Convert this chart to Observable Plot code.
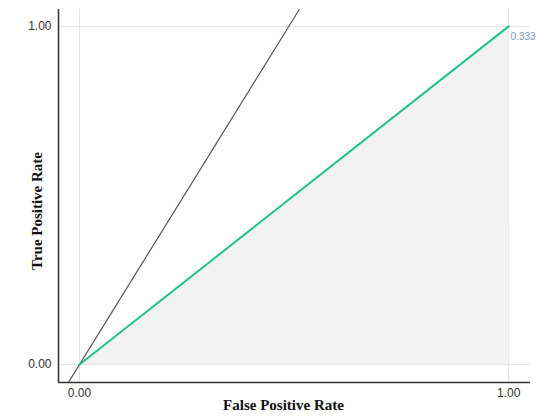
<!DOCTYPE html>
<html>
<head>
<meta charset="utf-8">
<script src="https://cdn.jsdelivr.net/npm/d3@7"></script>
<script src="https://cdn.jsdelivr.net/npm/@observablehq/plot@0.6"></script>
<style>
  html, body { margin: 0; padding: 0; background: #fff; }
  #chart svg { display: block; }
</style>
</head>
<body>
<div id="chart"></div>
<script>
// ROC curve data
const fpr = [0, 1];
const tpr = [0, 1];
const aucLabel = "0.333";
// reference line as drawn in the picture
const refX = [-0.026, 0.512];
const refY = [-0.053, 1.05];
const xTicks = [0, 1];
const yTicks = [0, 1];
const xTitle = "False Positive Rate";
const yTitle = "True Positive Rate";

const roc = fpr.map((x, i) => ({x, y: tpr[i]}));
const ref = refX.map((x, i) => ({x, y: refY[i]}));
const xDomain = [-0.049, 1.051];
const yDomain = [-0.053, 1.05];
const titleFont = "'Liberation Serif', 'Times New Roman', serif";

const chart = Plot.plot({
  width: 550,
  height: 419,
  marginLeft: 58,
  marginRight: 20,
  marginTop: 9,
  marginBottom: 37,
  style: {fontFamily: "'Liberation Sans', Arial, sans-serif", fontSize: "12px", color: "#333", background: "#fff"},
  x: {domain: xDomain, ticks: xTicks, tickFormat: d3.format(".2f"), label: null, tickSize: 0, tickPadding: 6},
  y: {domain: yDomain, ticks: yTicks, tickFormat: d3.format(".2f"), label: null, tickSize: 0, tickPadding: 7},
  marks: [
    Plot.gridX(xTicks, {stroke: "#e4e4e4", strokeOpacity: 1}),
    Plot.gridY(yTicks, {stroke: "#e4e4e4", strokeOpacity: 1}),
    Plot.areaY(roc, {x: "x", y: "y", fill: "#f2f2f2"}),
    Plot.line(ref, {x: "x", y: "y", stroke: "#555", strokeWidth: 1.2, clip: true}),
    Plot.line(roc, {x: "x", y: "y", stroke: "#1fc28e", strokeWidth: 2}),
    Plot.text([roc[roc.length - 1]], {x: "x", y: "y", text: () => aucLabel, textAnchor: "start", dx: 2, dy: 10, fill: "#7d98c9", fontSize: 10}),
    Plot.ruleX([xDomain[0]], {stroke: "#333", strokeWidth: 1.5}),
    Plot.ruleY([yDomain[0]], {stroke: "#333", strokeWidth: 1.5}),
    Plot.text([xTitle], {frameAnchor: "bottom", text: d => d, dx: -11, dy: 23, lineAnchor: "middle", fontFamily: titleFont, fontWeight: "bold", fontSize: 15, fill: "#111"}),
    Plot.text([yTitle], {frameAnchor: "left", text: d => d, rotate: -90, textAnchor: "middle", dx: -21, dy: 15, lineAnchor: "middle", fontFamily: titleFont, fontWeight: "bold", fontSize: 15, fill: "#111"})
  ]
});
document.getElementById("chart").appendChild(chart);
</script>
</body>
</html>
